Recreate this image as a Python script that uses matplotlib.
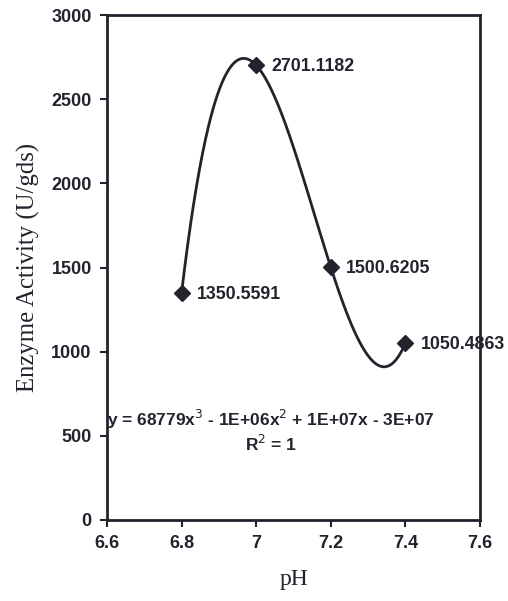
import numpy as np
import matplotlib
matplotlib.use("Agg")
import matplotlib.pyplot as plt

ph = [6.8, 7.0, 7.2, 7.4]
activity = [1350.5591, 2701.1182, 1500.6205, 1050.4863]
point_labels = ["1350.5591", "2701.1182", "1500.6205", "1050.4863"]
x_ticks = [6.6, 6.8, 7.0, 7.2, 7.4, 7.6]
x_tick_labels = ["6.6", "6.8", "7", "7.2", "7.4", "7.6"]
y_ticks = [0, 500, 1000, 1500, 2000, 2500, 3000]
equation = "y = 68779x$^3$ - 1E+06x$^2$ + 1E+07x - 3E+07"
r2_text = "R$^2$ = 1"

ink = "#23232e"
fig = plt.figure(figsize=(5.08, 6.01), dpi=100)
ax = fig.add_axes([0.2106, 0.1348, 0.7344, 0.8402])

coef = np.polyfit(ph, activity, 3)
xs = np.linspace(ph[0], ph[-1], 300)
ax.plot(xs, np.polyval(coef, xs), color=ink, lw=2.0, zorder=3)
ax.plot(ph, activity, linestyle="none", marker="D", markersize=8.5, color=ink, zorder=4)

sans = "Liberation Sans"
for x, y, lab in zip(ph, activity, point_labels):
    ax.annotate(lab, (x, y), xytext=(11, -1), textcoords="offset points",
                ha="left", va="center", fontsize=12.8, fontweight="bold",
                family=sans, color=ink, zorder=2)

ax.text(0.0, 0.2, equation, transform=ax.transAxes, fontsize=12.5,
        fontweight="bold", family=sans, color=ink, ha="left", va="center")
ax.text(0.44, 0.15, r2_text, transform=ax.transAxes, fontsize=12.5,
        fontweight="bold", family=sans, color=ink, ha="center", va="center")

ax.set_xlim(6.6, 7.6)
ax.set_ylim(0, 3000)
ax.set_xticks(x_ticks)
ax.set_xticklabels(x_tick_labels)
ax.set_yticks(y_ticks)
for lab in ax.get_xticklabels() + ax.get_yticklabels():
    lab.set_family(sans)
    lab.set_fontsize(13)
    lab.set_fontweight("bold")
    lab.set_color(ink)
ax.tick_params(axis="both", direction="out", length=5, width=1.5, color=ink, pad=6)
for s in ax.spines.values():
    s.set_linewidth(2.0)
    s.set_color(ink)

ax.set_xlabel("pH", family="Liberation Serif", fontsize=17, color=ink, labelpad=12)
ax.set_ylabel("Enzyme Activity (U/gds)", family="Liberation Serif", fontsize=17.8,
              color=ink, labelpad=8)

fig.savefig("out.png", dpi=100, facecolor="white")
